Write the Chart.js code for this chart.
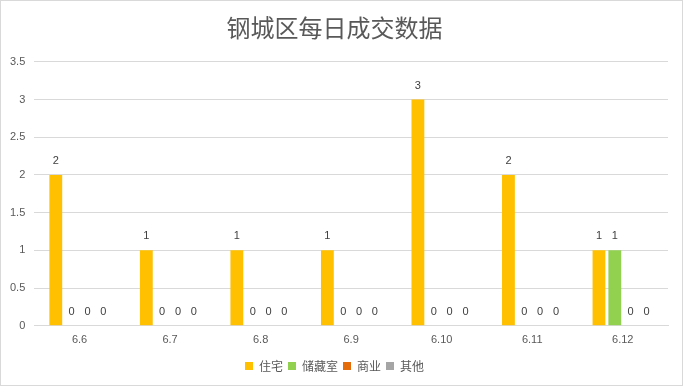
<!DOCTYPE html>
<html>
<head>
<meta charset="utf-8">
<script src="https://cdn.jsdelivr.net/npm/chart.js@4/dist/chart.umd.min.js"></script>
<style>
  html, body { margin: 0; padding: 0; background: #fff; }
  #wrap { width: 683px; height: 386px; box-sizing: border-box; border: 1px solid #D9D9D9; position: relative; }
</style>
</head>
<body>
<div id="wrap"><canvas id="dealChart" width="681" height="384"></canvas></div>
<script>
// daily deals in Gangcheng district
const days = ['6.6', '6.7', '6.8', '6.9', '6.10', '6.11', '6.12'];
const housing = [2, 1, 1, 1, 3, 2, 1];
const storage = [0, 0, 0, 0, 0, 0, 1];
const shops = [0, 0, 0, 0, 0, 0, 0];
const others = [0, 0, 0, 0, 0, 0, 0];
const yTicks = [0, 0.5, 1, 1.5, 2, 2.5, 3, 3.5];

const numFont = '"Liberation Sans", "DejaVu Sans", sans-serif';
const cjkFont = '"Noto Sans CJK SC", sans-serif';

// simple value labels above each bar
const barLabels = {
  id: 'barLabels',
  afterDatasetsDraw(chart) {
    const c = chart.ctx;
    c.save();
    c.font = '11px ' + numFont;
    c.fillStyle = '#404040';
    c.textAlign = 'center';
    c.textBaseline = 'middle';
    chart.data.datasets.forEach((ds, i) => {
      chart.getDatasetMeta(i).data.forEach((bar, j) => {
        c.fillText(String(ds.data[j]), bar.x, bar.y - 14);
      });
    });
    c.restore();
  }
};

const ctx = document.getElementById('dealChart').getContext('2d');
const dealChart = new Chart(ctx, {
  type: 'bar',
  data: {
    labels: days,
    datasets: [
      { label: '住宅', data: housing, backgroundColor: '#FFC000' },
      { label: '储藏室', data: storage, backgroundColor: '#92D050' },
      { label: '商业', data: shops, backgroundColor: '#E46C0A' },
      { label: '其他', data: others, backgroundColor: '#A5A5A5' }
    ]
  },
  options: {
    responsive: false,
    animation: false,
    layout: { padding: { left: 0, right: 14, top: 6, bottom: 3 } },
    datasets: {
      bar: { categoryPercentage: 0.7, barPercentage: 0.81 }
    },
    plugins: {
      title: {
        display: true,
        text: '钢城区每日成交数据',
        color: '#595959',
        font: { family: cjkFont, size: 24, weight: 'normal' },
        padding: { top: 6, bottom: 20 }
      },
      legend: {
        position: 'bottom',
        labels: {
          color: '#595959',
          font: { family: cjkFont, size: 12 },
          boxWidth: 8,
          boxHeight: 8,
          padding: 5
        }
      },
      tooltip: { enabled: false }
    },
    scales: {
      x: {
        grid: { display: false, drawTicks: false },
        border: { color: '#D9D9D9' },
        ticks: { color: '#595959', font: { family: numFont, size: 11 }, padding: 8 }
      },
      y: {
        min: 0,
        max: 3.5,
        afterBuildTicks(axis) { axis.ticks = yTicks.map(v => ({ value: v })); },
        grid: { color: '#D9D9D9', drawTicks: false },
        border: { display: false },
        ticks: {
          color: '#595959',
          font: { family: numFont, size: 11 },
          padding: 9,
          callback: v => String(v)
        }
      }
    }
  },
  plugins: [barLabels]
});
</script>
</body>
</html>
